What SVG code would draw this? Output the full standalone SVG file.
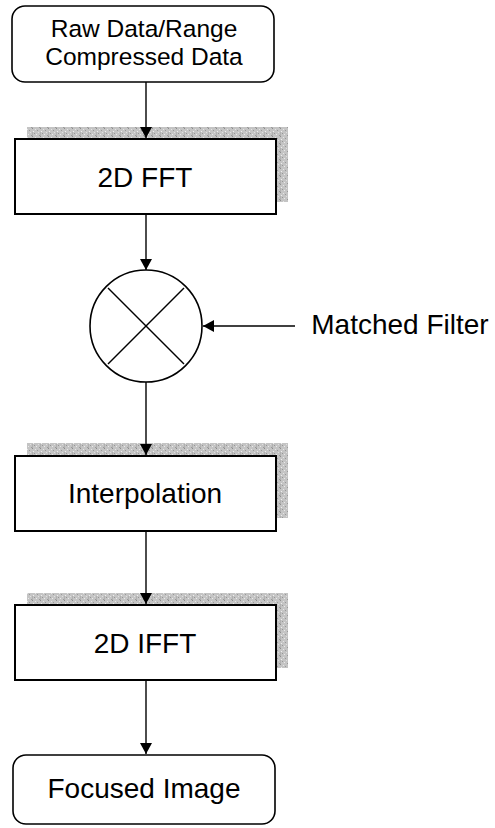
<svg xmlns="http://www.w3.org/2000/svg" width="495" height="828" viewBox="0 0 495 828">
<style>
  .box { fill: #ffffff; stroke: #000000; stroke-width: 2; }
  .term { fill: #ffffff; stroke: #000000; stroke-width: 1.6; }
  .shadow { fill: url(#stipple); }
  .lbl { font-family: "Liberation Sans", Arial, sans-serif; fill: #000000; text-anchor: middle; }
  .big { font-size: 28px; }
  .small { font-size: 24.5px; }
  .conn { stroke: #000000; stroke-width: 1.4; fill: none; }
</style>
<defs>
  <pattern id="stipple" width="8" height="8" patternUnits="userSpaceOnUse">
    <rect width="8" height="8" fill="#c4c4c4"/>
    <rect x="0" y="0" width="1" height="1" fill="#8c8c8c"/>
    <rect x="3" y="1" width="1" height="1" fill="#e6e6e6"/>
    <rect x="5" y="2" width="1" height="1" fill="#999999"/>
    <rect x="1" y="3" width="1" height="1" fill="#eeeeee"/>
    <rect x="6" y="4" width="1" height="1" fill="#e0e0e0"/>
    <rect x="2" y="5" width="1" height="1" fill="#969696"/>
    <rect x="4" y="6" width="1" height="1" fill="#eaeaea"/>
    <rect x="7" y="7" width="1" height="1" fill="#9a9a9a"/>
    <rect x="0" y="4" width="1" height="8" fill="#b0b0b0"/>
  </pattern>
  <marker id="arrow" markerWidth="12" markerHeight="12" refX="11" refY="6" orient="auto" markerUnits="userSpaceOnUse">
    <path d="M0,0 L11,6 L0,12 Z" fill="#000000"/>
  </marker>
</defs>

<g id="raw-data">
  <rect class="term" x="12" y="6" width="262" height="76" rx="13" ry="13"/>
  <text class="lbl small" x="144" y="37">Raw Data/Range</text>
  <text class="lbl small" x="144" y="65">Compressed Data</text>
</g>

<g id="fft2d">
  <rect class="shadow" x="27" y="127" width="261" height="75"/>
  <rect class="box" x="15" y="139" width="261" height="75"/>
  <text class="lbl big" x="145" y="187">2D FFT</text>
</g>

<g id="multiplier">
  <circle cx="146" cy="326" r="56" fill="#ffffff" stroke="#000000" stroke-width="1.6"/>
  <line x1="108" y1="288" x2="184" y2="364" stroke="#000000" stroke-width="1.4"/>
  <line x1="184" y1="288" x2="108" y2="364" stroke="#000000" stroke-width="1.4"/>
</g>

<g id="matched-filter">
  <text class="lbl big" x="400" y="334">Matched Filter</text>
</g>

<g id="interpolation">
  <rect class="shadow" x="27" y="443" width="261" height="75"/>
  <rect class="box" x="15" y="456" width="261" height="75"/>
  <text class="lbl big" x="145" y="503">Interpolation</text>
</g>

<g id="ifft2d">
  <rect class="shadow" x="27" y="593" width="261" height="75"/>
  <rect class="box" x="15" y="605" width="261" height="75"/>
  <text class="lbl big" x="145" y="653">2D IFFT</text>
</g>

<g id="focused-image">
  <rect class="term" x="13" y="755" width="262" height="69" rx="13" ry="13"/>
  <text class="lbl big" x="144" y="798">Focused Image</text>
</g>

<g id="connectors">
  <line class="conn" x1="146" y1="82" x2="146" y2="138" marker-end="url(#arrow)"/>
  <line class="conn" x1="146" y1="214" x2="146" y2="270" marker-end="url(#arrow)"/>
  <line class="conn" x1="295" y1="326" x2="203" y2="326" marker-end="url(#arrow)"/>
  <line class="conn" x1="146" y1="382" x2="146" y2="455" marker-end="url(#arrow)"/>
  <line class="conn" x1="146" y1="531" x2="146" y2="604" marker-end="url(#arrow)"/>
  <line class="conn" x1="146" y1="680" x2="146" y2="754" marker-end="url(#arrow)"/>
</g>
</svg>
